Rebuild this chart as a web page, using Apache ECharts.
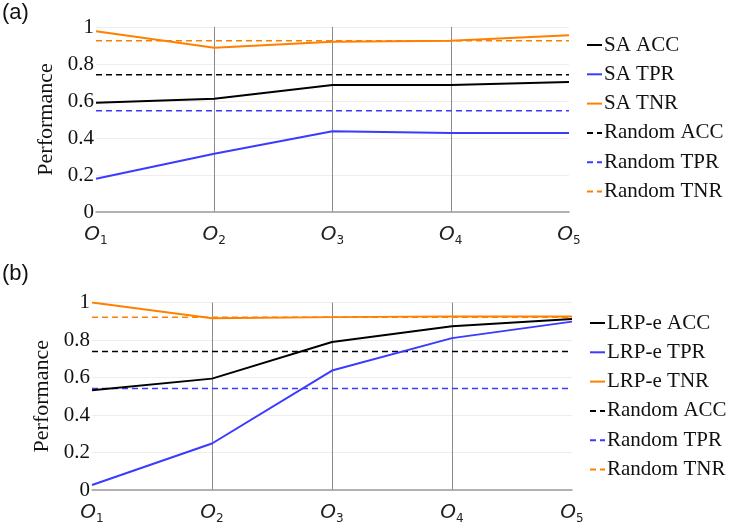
<!DOCTYPE html>
<html>
<head>
<meta charset="utf-8">
<script src="https://cdn.jsdelivr.net/npm/echarts@6/dist/echarts.min.js"></script>
<style>html,body{margin:0;padding:0;background:#fff;}#c{width:730px;height:525px;}</style>
</head>
<body>
<div id="c"></div>
<script>
// Categories (O with subscript index)
const categories = ['1', '2', '3', '4', '5'];
const yTicks = [0, 0.2, 0.4, 0.6, 0.8, 1];

// Panel (a): SA
const saAcc = [0.59, 0.612, 0.686, 0.686, 0.703];
const saTpr = [0.18, 0.315, 0.437, 0.427, 0.427];
const saTnr = [0.977, 0.888, 0.92, 0.926, 0.955];
const randAccA = [0.742, 0.742, 0.742, 0.742, 0.742];
const randTprA = [0.547, 0.547, 0.547, 0.547, 0.547];
const randTnrA = [0.926, 0.926, 0.926, 0.926, 0.926];

// Panel (b): LRP-e
const lrpAcc = [0.532, 0.594, 0.789, 0.873, 0.912];
const lrpTpr = [0.027, 0.248, 0.637, 0.81, 0.898];
const lrpTnr = [1.0, 0.916, 0.922, 0.926, 0.925];
const randAccB = [0.739, 0.739, 0.739, 0.739, 0.739];
const randTprB = [0.541, 0.541, 0.541, 0.541, 0.541];
const randTnrB = [0.921, 0.921, 0.921, 0.921, 0.921];

const BLACK = '#000000', BLUE = '#3b3bff', ORANGE = '#ff8000';
const SERIF = 'Liberation Serif';

function xAxis(gridIndex) {
  return {
    type: 'category', gridIndex, data: categories, boundaryGap: false,
    axisLine: { lineStyle: { color: '#9a9a9a', width: 1.5 } },
    axisTick: { show: false },
    splitLine: { show: true, interval: (i) => i > 0 && i < categories.length - 1, lineStyle: { color: '#8a8a8a', width: 1 } },
    axisLabel: {
      margin: 11,
      formatter: (v) => '{o|O}{s|' + v + '}',
      rich: {
        o: { fontFamily: 'DejaVu Sans', fontStyle: 'italic', fontSize: 20, color: '#222' },
        s: { fontFamily: 'DejaVu Sans', fontSize: 12, color: '#222', verticalAlign: 'bottom', padding: [12, 0, 0, 0] }
      }
    }
  };
}
function yAxis(gridIndex) {
  return {
    type: 'value', gridIndex, min: yTicks[0], max: yTicks[yTicks.length - 1], interval: 0.2,
    name: 'Performance', nameLocation: 'middle', nameGap: 35,
    nameTextStyle: { fontFamily: SERIF, fontSize: 22, color: '#111' },
    axisLine: { show: false }, axisTick: { show: false },
    splitLine: { show: true, lineStyle: { color: '#eeeeee', width: 1 } },
    axisLabel: { fontFamily: SERIF, fontSize: 21, color: '#111', margin: 2 }
  };
}
function line(name, data, color, dashed, idx) {
  return {
    name, type: 'line', data, xAxisIndex: idx, yAxisIndex: idx,
    symbol: 'none', silent: true,
    lineStyle: { color, width: dashed ? 1.6 : 2, type: dashed ? [6, 4] : 'solid' },
    itemStyle: { color }
  };
}
function legend(names, top, left) {
  return {
    orient: 'vertical', left, top, data: names,
    itemWidth: 15, itemHeight: 14, itemGap: 7.3,
    itemStyle: { opacity: 0, borderWidth: 0 },
    textStyle: { fontFamily: SERIF, fontSize: 21, color: '#111', lineHeight: 22, padding: [0, 0, 0, -3] },
    selectedMode: false
  };
}

const chart = echarts.init(document.getElementById('c'), null, { renderer: 'canvas' });
chart.setOption({
  animation: false,
  backgroundColor: '#ffffff',
  grid: [
    { left: 96, right: 161, top: 27, height: 185 },
    { left: 92, right: 158, top: 302.5, height: 188.5 }
  ],
  xAxis: [xAxis(0), xAxis(1)],
  yAxis: [yAxis(0), yAxis(1)],
  legend: [
    legend(['SA ACC', 'SA TPR', 'SA TNR', 'Random ACC', 'Random TPR', 'Random TNR'], 29, 581),
    legend(['LRP-e ACC', 'LRP-e TPR', 'LRP-e TNR', 'Random ACC ', 'Random TPR ', 'Random TNR '], 307, 584)
  ],
  graphic: [
    { type: 'text', left: 2, top: 2, style: { text: '(a)', font: '22px "Liberation Sans", Arial, sans-serif', fill: '#111' } },
    { type: 'text', left: 2, top: 263, style: { text: '(b)', font: '22px "Liberation Sans", Arial, sans-serif', fill: '#111' } }
  ],
  series: [
    line('Random ACC', randAccA, BLACK, true, 0),
    line('Random TPR', randTprA, BLUE, true, 0),
    line('Random TNR', randTnrA, ORANGE, true, 0),
    line('SA ACC', saAcc, BLACK, false, 0),
    line('SA TPR', saTpr, BLUE, false, 0),
    line('SA TNR', saTnr, ORANGE, false, 0),
    line('Random ACC ', randAccB, BLACK, true, 1),
    line('Random TPR ', randTprB, BLUE, true, 1),
    line('Random TNR ', randTnrB, ORANGE, true, 1),
    line('LRP-e ACC', lrpAcc, BLACK, false, 1),
    line('LRP-e TPR', lrpTpr, BLUE, false, 1),
    line('LRP-e TNR', lrpTnr, ORANGE, false, 1)
  ]
});
</script>
</body>
</html>
